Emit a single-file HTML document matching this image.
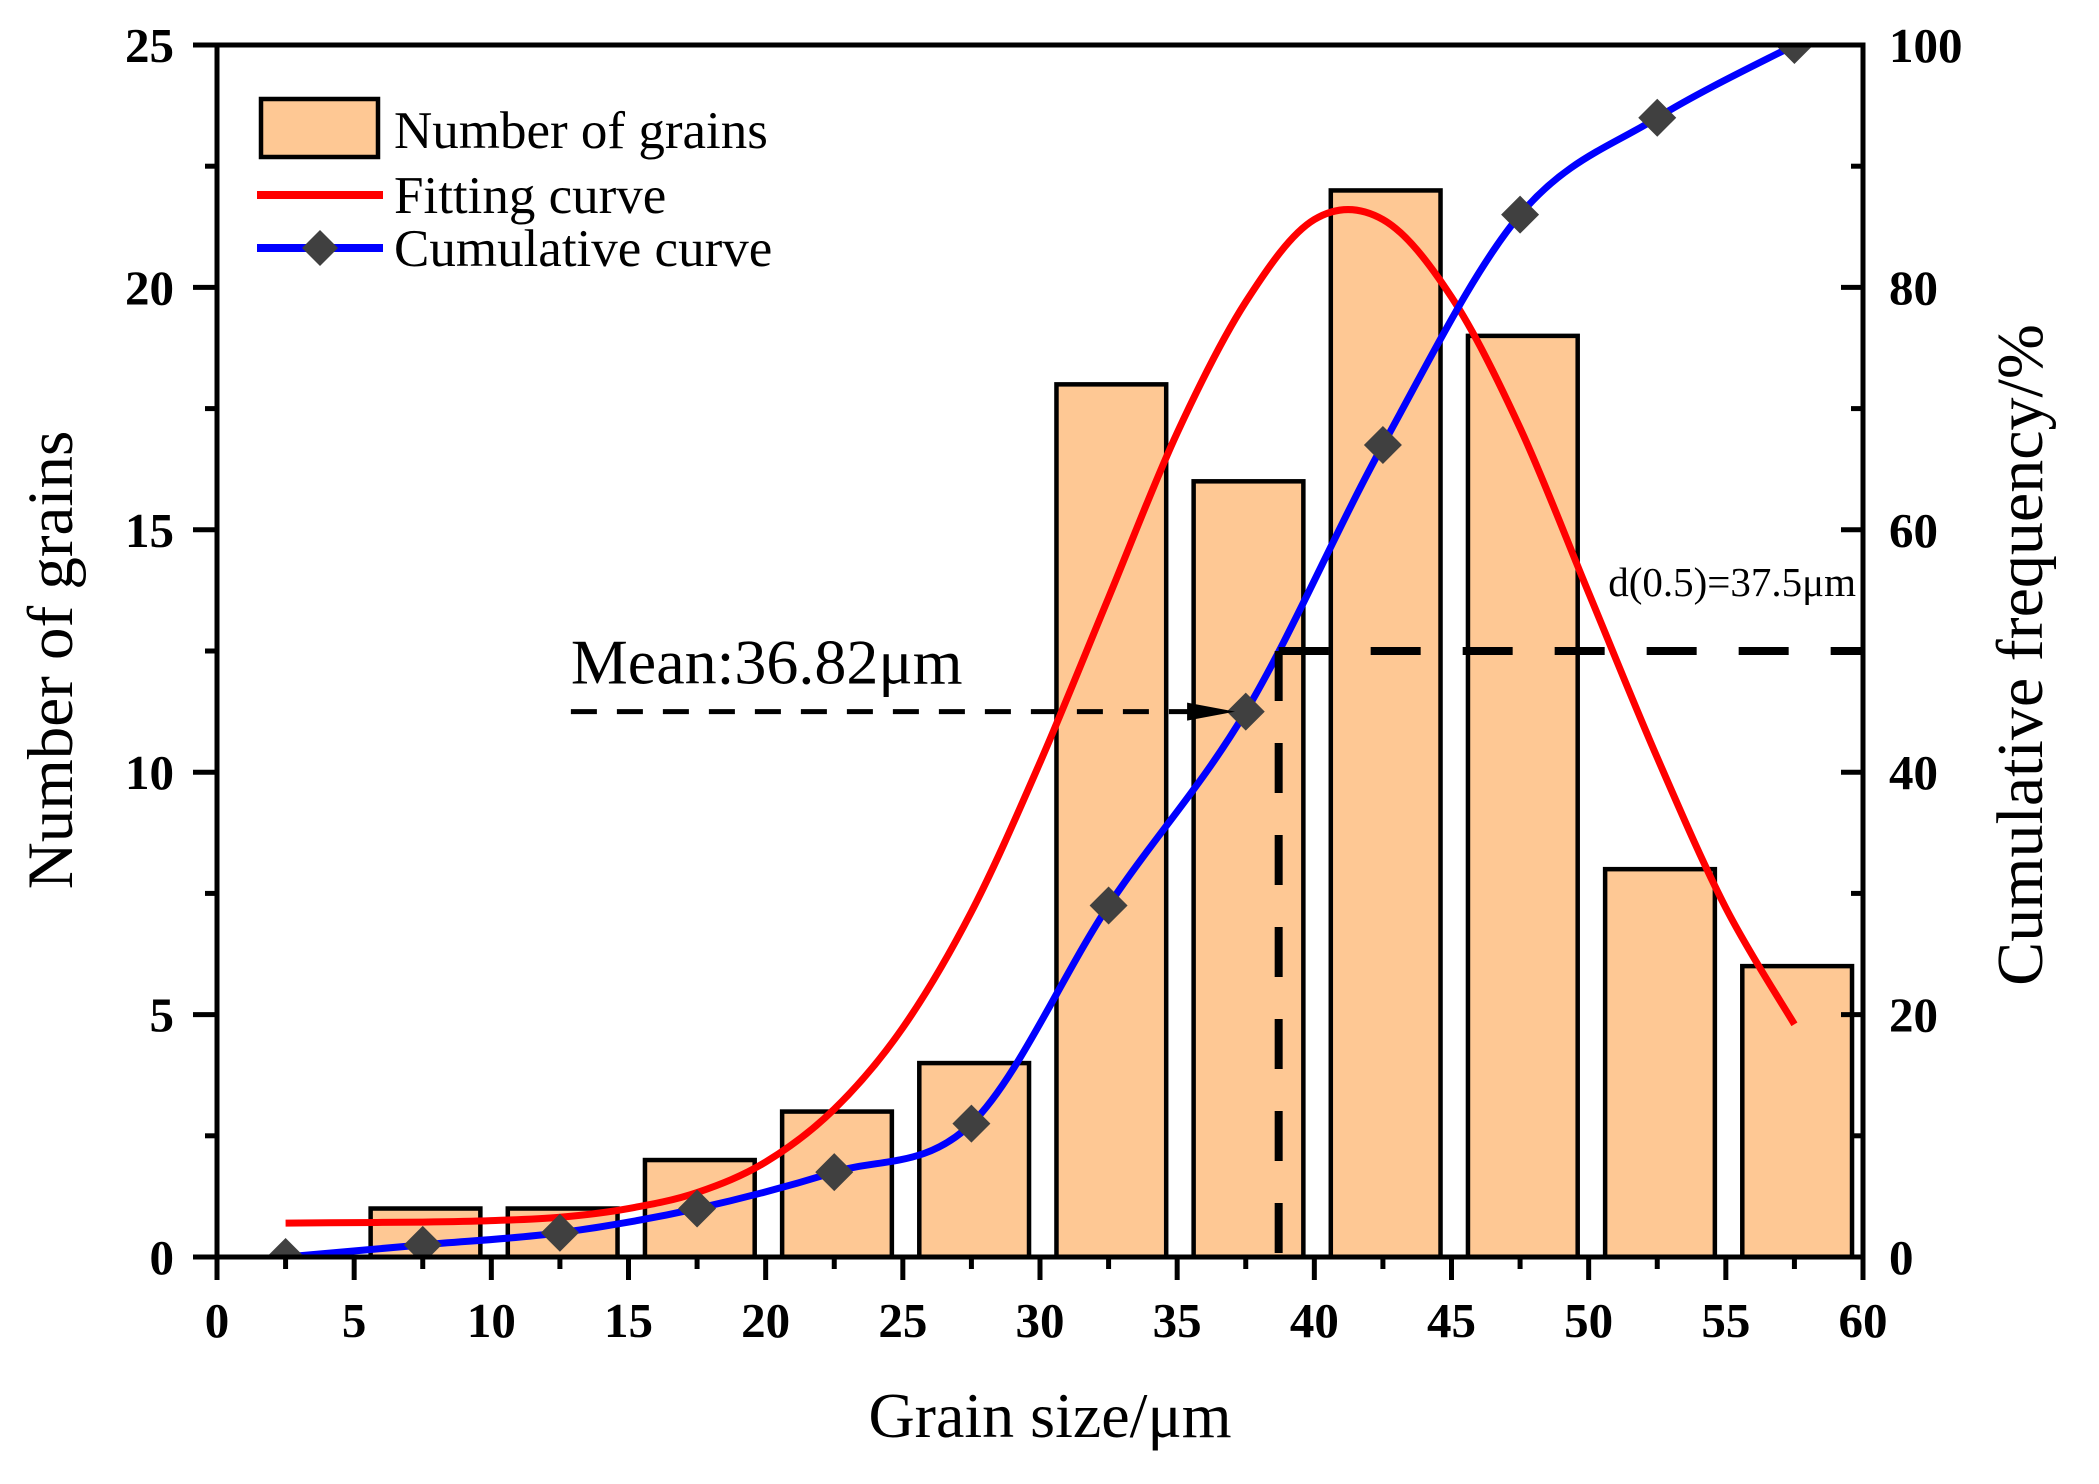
<!DOCTYPE html>
<html><head><meta charset="utf-8"><style>
html,body{margin:0;padding:0;background:#fff;}
svg{display:block;font-family:"Liberation Serif",serif;}
</style></head><body>
<svg id="chart" width="2099" height="1484" viewBox="0 0 2099 1484">
<defs><clipPath id="plotclip"><rect x="217" y="45" width="1646" height="1212"/></clipPath></defs>
<g id="bars"></g>
<g id="lines" clip-path="url(#plotclip)"></g>
<g id="annot"></g>
<g id="axes"></g>
<g id="legend"></g>
</svg>
<script>
const binCenters = [2.5,7.5,12.5,17.5,22.5,27.5,32.5,37.5,42.5,47.5,52.5,57.5];
const grainCounts = [0,1,1,2,3,4,18,16,22,19,8,6];
const cumulativePct = [0,1,2,4,7,11,29,45,67,86,94,100];
const fitX = [2.5,5,7.5,10,12.5,15,17.5,20,22.5,25,27.5,30,32.5,35,37.5,40,42.5,45,47.5,50,52.5,55,57.5];
const fitY = [0.7,0.71,0.72,0.75,0.82,1.0,1.33,1.96,3.05,4.73,7.12,10.2,13.6,17.0,19.7,21.4,21.4,19.8,17.1,13.7,10.3,7.2,4.8];
const xTicks = [0,5,10,15,20,25,30,35,40,45,50,55,60];
const yLeftTicks = [0,5,10,15,20,25];
const yRightTicks = [0,20,40,60,80,100];
const meanValue = 36.82, meanLevel = 11.25, medianValue = 38.7, medianPct = 50;

const NS="http://www.w3.org/2000/svg";
const X0=217,X1=1863,Y0=1257,Y1=45;
const xs=v=>X0+(v-0)/60*(X1-X0);
const yl=v=>Y0-v/25*(Y0-Y1);
const yr=v=>Y0-v/100*(Y0-Y1);
function mk(tag,attrs,parent,text){const e=document.createElementNS(NS,tag);for(const k in attrs)e.setAttribute(k,attrs[k]);if(text!==undefined)e.textContent=text;parent.appendChild(e);return e;}
function smooth(pts){let d=`M${pts[0][0]},${pts[0][1]}`;for(let i=0;i<pts.length-1;i++){const p0=pts[i-1]||pts[i],p1=pts[i],p2=pts[i+1],p3=pts[i+2]||p2;const c1=[p1[0]+(p2[0]-p0[0])/6,p1[1]+(p2[1]-p0[1])/6],c2=[p2[0]-(p3[0]-p1[0])/6,p2[1]-(p3[1]-p1[1])/6];d+=`C${c1[0]},${c1[1]} ${c2[0]},${c2[1]} ${p2[0]},${p2[1]}`;}return d;}

const gb=document.getElementById('bars');
binCenters.forEach((c,i)=>{if(grainCounts[i]<=0)return;
 const r=mk('rect',{x:xs(c-1.9),y:yl(grainCounts[i]),width:xs(c+2.1)-xs(c-1.9),height:Y0-yl(grainCounts[i]),fill:'#FEC894',stroke:'#000','stroke-width':4.5},gb);
 
 });

const gl=document.getElementById('lines');
const red=mk('path',{d:smooth(fitX.map((x,i)=>[xs(x),yl(fitY[i])])),fill:'none',stroke:'#FF0000','stroke-width':7},gl);


const blue=mk('path',{d:smooth(binCenters.map((x,i)=>[xs(x),yr(cumulativePct[i])])),fill:'none',stroke:'#0000FF','stroke-width':7},gl);


binCenters.forEach((x,i)=>{const cx=xs(x),cy=yr(cumulativePct[i]),s=19;
 const m=mk('path',{d:`M${cx},${cy-s}L${cx+s},${cy}L${cx},${cy+s}L${cx-s},${cy}Z`,fill:'#404040'},gl);
 
 });

const ga=document.getElementById('annot');
const ml=mk('line',{x1:xs(12.9),y1:yl(meanLevel),x2:xs(meanValue)-25,y2:yl(meanLevel),stroke:'#000','stroke-width':5,'stroke-dasharray':'26 20'},ga);


const ar=mk('path',{d:`M${xs(meanValue)-40},${yl(meanLevel)-9}L${xs(meanValue)+8},${yl(meanLevel)}L${xs(meanValue)-40},${yl(meanLevel)+9}Z`,fill:'#000'},ga);


const mt=mk('text',{x:xs(12.9),y:yl(meanLevel)-28,'font-size':64,fill:'#000'},ga,'Mean:36.82μm');


const hl=mk('line',{x1:xs(medianValue),y1:yr(medianPct),x2:X1,y2:yr(medianPct),stroke:'#000','stroke-width':8,'stroke-dasharray':'50 42'},ga);


const vl=mk('line',{x1:xs(medianValue),y1:yr(medianPct),x2:xs(medianValue),y2:Y0,stroke:'#000','stroke-width':8,'stroke-dasharray':'50 42'},ga);


const dt=mk('text',{x:1856,y:yr(medianPct)-55,'font-size':41,fill:'#000','text-anchor':'end'},ga,'d(0.5)=37.5μm');



const gx=document.getElementById('axes');
mk('rect',{x:X0,y:Y1,width:X1-X0,height:Y0-Y1,fill:'none',stroke:'#000','stroke-width':5},gx);
xTicks.forEach(t=>{const x=xs(t);mk('line',{x1:x,y1:Y0,x2:x,y2:Y0+23,stroke:'#000','stroke-width':5},gx);
 const l=mk('text',{x:x,y:1337,'font-size':49,'font-weight':'bold','text-anchor':'middle'},gx,String(t));
 
 
 if(t<60)mk('line',{x1:xs(t+2.5),y1:Y0,x2:xs(t+2.5),y2:Y0+12,stroke:'#000','stroke-width':5},gx);});
yLeftTicks.forEach(t=>{const y=yl(t);mk('line',{x1:X0-24,y1:y,x2:X0,y2:y,stroke:'#000','stroke-width':5},gx);
 const l=mk('text',{x:174,y:y+17,'font-size':49,'font-weight':'bold','text-anchor':'end'},gx,String(t));
 
 
 if(t<25)mk('line',{x1:X0-12,y1:yl(t+2.5),x2:X0,y2:yl(t+2.5),stroke:'#000','stroke-width':5},gx);});
yRightTicks.forEach(t=>{const y=yr(t);mk('line',{x1:X1-22,y1:y,x2:X1,y2:y,stroke:'#000','stroke-width':5},gx);
 const l=mk('text',{x:1889,y:y+17,'font-size':49,'font-weight':'bold'},gx,String(t));
 
 
 if(t<100)mk('line',{x1:X1-12,y1:yr(t+10),x2:X1,y2:yr(t+10),stroke:'#000','stroke-width':5},gx);});
const xt=mk('text',{x:1050,y:1437,'font-size':64,'text-anchor':'middle'},gx,'Grain size/μm');


const ylt=mk('text',{x:0,y:0,'font-size':65,'text-anchor':'middle',transform:'translate(72,660) rotate(-90)'},gx,'Number of grains');


const yrt=mk('text',{x:0,y:0,'font-size':66,'text-anchor':'middle',transform:'translate(2042,655) rotate(-90)'},gx,'Cumulative frequency/%');



const lg=document.getElementById('legend');
const e1=mk('g',{},lg);


mk('rect',{x:261,y:99,width:117,height:58,fill:'#FEC894',stroke:'#000','stroke-width':4.5},e1);
mk('text',{x:394,y:148,'font-size':53},e1,'Number of grains');
const e2=mk('g',{},lg);


mk('line',{x1:257,y1:195,x2:383,y2:195,stroke:'#FF0000','stroke-width':8},e2);
mk('text',{x:394,y:213,'font-size':53},e2,'Fitting curve');
const e3=mk('g',{},lg);


mk('line',{x1:257,y1:248,x2:383,y2:248,stroke:'#0000FF','stroke-width':8},e3);
mk('path',{d:'M320,230L338,248L320,266L302,248Z',fill:'#404040'},e3);
mk('text',{x:394,y:266,'font-size':53},e3,'Cumulative curve');
</script>
</body></html>
